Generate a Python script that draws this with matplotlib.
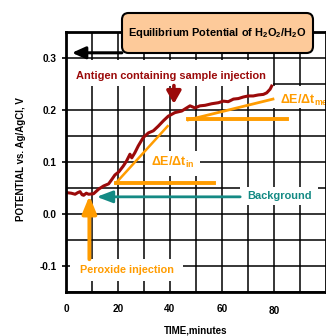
import matplotlib
matplotlib.use("Agg")
import matplotlib.pyplot as plt
import matplotlib.transforms as mtransforms
from matplotlib.patches import FancyBboxPatch, Rectangle

plt.rcParams['font.family'] = ['Liberation Sans', 'DejaVu Sans']
plt.rcParams['font.weight'] = 'bold'
plt.rcParams['mathtext.fontset'] = 'custom'
plt.rcParams['mathtext.rm'] = 'Liberation Sans:bold'
plt.rcParams['mathtext.it'] = 'Liberation Sans:bold'
plt.rcParams['mathtext.bf'] = 'Liberation Sans:bold'

# ---- data ----
time_min = [0.4, 2.0, 3.5, 4.5, 5.4, 6.2, 6.8, 7.8, 8.7, 10.6, 12.6, 14.5, 16.4, 17.7,
            18.8, 20.3, 22.0, 23.3, 24.6, 25.3, 26.5, 27.8, 29.7, 31.7, 33.6, 35.5,
            37.4, 39.3, 41.9, 44.5, 46.4, 47.7, 49.6, 51.5, 53.5, 56.0, 58.6, 60.5,
            62.4, 64.4, 66.3, 68.2, 70.1, 72.0, 74.0, 75.9, 77.2, 78.5, 79.1]
potential = [0.041, 0.040, 0.038, 0.041, 0.043, 0.037, 0.036, 0.040, 0.038, 0.039,
             0.048, 0.054, 0.058, 0.067, 0.075, 0.081, 0.092, 0.102, 0.115, 0.108,
             0.118, 0.131, 0.147, 0.156, 0.160, 0.169, 0.179, 0.188, 0.195, 0.198,
             0.204, 0.208, 0.204, 0.208, 0.209, 0.212, 0.214, 0.217, 0.216, 0.221,
             0.222, 0.225, 0.227, 0.227, 0.229, 0.230, 0.233, 0.240, 0.246]

x_ticks = [0, 20, 40, 60, 80]
x_ticklabels = ['0', '20', '40', '60', '80']
y_ticks = [-0.1, 0.0, 0.1, 0.2, 0.3]
y_ticklabels = ['-0.1', '0.0', '0.1', '0.2', '0.3']

# slope construction lines (time, potential)
slope_in_t = [19.1, 39.1]
slope_in_v = [0.059, 0.169]
base_in_t = [19.1, 57.0]
base_in_v = [0.059, 0.059]
slope_me_t = [47.0, 79.6]
slope_me_v = [0.181, 0.221]
base_me_t = [47.0, 85.0]
base_me_v = [0.183, 0.183]

DARKRED = '#9b0a0a'
ORANGE = '#ff9c00'
TEAL = '#148a84'

fig = plt.figure(figsize=(3.26, 3.36), dpi=100)
ax = fig.add_axes([66/326, 44/336, 260/326, 260/336])
ax.set_xlim(0, 100)
ax.set_ylim(-0.15, 0.35)

ax.set_xticks(x_ticks)
ax.set_xticklabels(x_ticklabels)
ax.set_yticks(y_ticks)
ax.set_yticklabels(y_ticklabels)
ax.set_xticks([10, 30, 50, 70, 90], minor=True)
ax.set_yticks([-0.15, -0.05, 0.05, 0.15, 0.25, 0.35], minor=True)
ax.tick_params(axis='x', which='major', length=0, pad=9, labelsize=7.2)
ax.tick_params(axis='y', which='major', length=3, width=1.2, pad=4, labelsize=7.2)
ax.tick_params(which='minor', length=0)
ax.grid(True, which='both', color='black', linewidth=1.1)
ax.set_axisbelow(True)
for sp in ax.spines.values():
    sp.set_linewidth(2.0)
    sp.set_zorder(10)

# "80" label sits slightly lower in the reference
lbl80 = ax.get_xticklabels()[4]
lbl80.set_transform(lbl80.get_transform() + mtransforms.ScaledTranslation(0, -1.5/100, fig.dpi_scale_trans))

ax.set_xlabel('TIME,minutes', fontsize=7, fontweight='bold')
ax.set_ylabel('POTENTIAL vs. Ag/AgCl, V', fontsize=7, fontweight='bold')
ax.xaxis.set_label_coords(0.5, -0.13)
ax.yaxis.set_label_coords(-0.155, 0.51)

# white backgrounds behind annotation texts (cover grid)
def white_box(t0, t1, v0, v1):
    ax.add_patch(Rectangle((t0, v0), t1 - t0, v1 - v0, facecolor='white',
                           edgecolor='none', zorder=2, clip_on=False))

white_box(0.0, 79.6, 0.247, 0.297)     # antigen text
white_box(1.5, 45.0, -0.129, -0.087)   # peroxide text
white_box(30.4, 51.5, 0.073, 0.121)    # dE/dt in
white_box(67.0, 97.0, 0.017, 0.051)    # background
white_box(79.6, 100.0, 0.203, 0.247)   # dE/dt me

# curve
ax.plot(time_min, potential, color=DARKRED, lw=2.2, zorder=5, solid_joinstyle='round')

# slope lines
ax.plot(slope_in_t, slope_in_v, color=ORANGE, lw=1.8, zorder=4)
ax.plot(base_in_t, base_in_v, color=ORANGE, lw=2.8, zorder=4)
ax.plot(slope_me_t, slope_me_v, color=ORANGE, lw=2.0, zorder=4)
ax.plot(base_me_t, base_me_v, color=ORANGE, lw=2.8, zorder=4)

def arrow(tip, tail, color, lw, hl, hw, z=4):
    ax.annotate('', xy=tip, xytext=tail, annotation_clip=False,
                arrowprops=dict(arrowstyle=f'-|>,head_length={hl},head_width={hw}',
                                color=color, lw=lw, shrinkA=0, shrinkB=0,
                                mutation_scale=10), zorder=z)

# arrows
arrow((11.8, 0.033), (67.0, 0.033), TEAL, 2.0, 0.95, 0.36)
arrow((9.0, 0.035), (9.0, -0.087), ORANGE, 2.8, 1.05, 0.43)
arrow((41.5, 0.212), (41.5, 0.247), DARKRED, 2.6, 0.75, 0.43)
arrow((2.3, 0.310), (21.5, 0.310), 'black', 2.2, 0.8, 0.36, z=6)

ax.text(40.5, 0.266, 'Antigen containing sample injection', color=DARKRED,
        fontsize=7.9, fontweight='bold', ha='center', va='center', zorder=6)
ax.text(23.3, -0.108, 'Peroxide injection', color=ORANGE, fontsize=7.8,
        fontweight='bold', ha='center', va='center', zorder=6)
ax.text(82.3, 0.034, 'Background', color=TEAL, fontsize=7.9, fontweight='bold',
        ha='center', va='center', zorder=6)
ax.text(41.0, 0.100, 'ΔE/Δt$_{\\mathrm{in}}$', color=ORANGE, fontsize=9,
        fontweight='bold', ha='center', va='center', zorder=6)
ax.text(82.5, 0.219, 'ΔE/Δt$_{\\mathrm{me}}$', color=ORANGE, fontsize=9,
        fontweight='bold', ha='left', va='center', clip_on=False, zorder=6)

# equilibrium box (figure coords)
bx0, by0, bw, bh = 122/326, 1 - 53/336, 191/326, 40/336
fig.patches.append(FancyBboxPatch((bx0, by0), bw, bh, boxstyle='round,pad=0,rounding_size=0.02',
                                  transform=fig.transFigure, facecolor='#fdca9a',
                                  edgecolor='black', linewidth=1.5, zorder=20, figure=fig))
fig.text(bx0 + bw/2, by0 + bh/2, 'Equilibrium Potential of H$_2$O$_2$/H$_2$O',
         fontsize=7.9, fontweight='bold', ha='center', va='center', zorder=21)

fig.savefig('out.png', dpi=100)
